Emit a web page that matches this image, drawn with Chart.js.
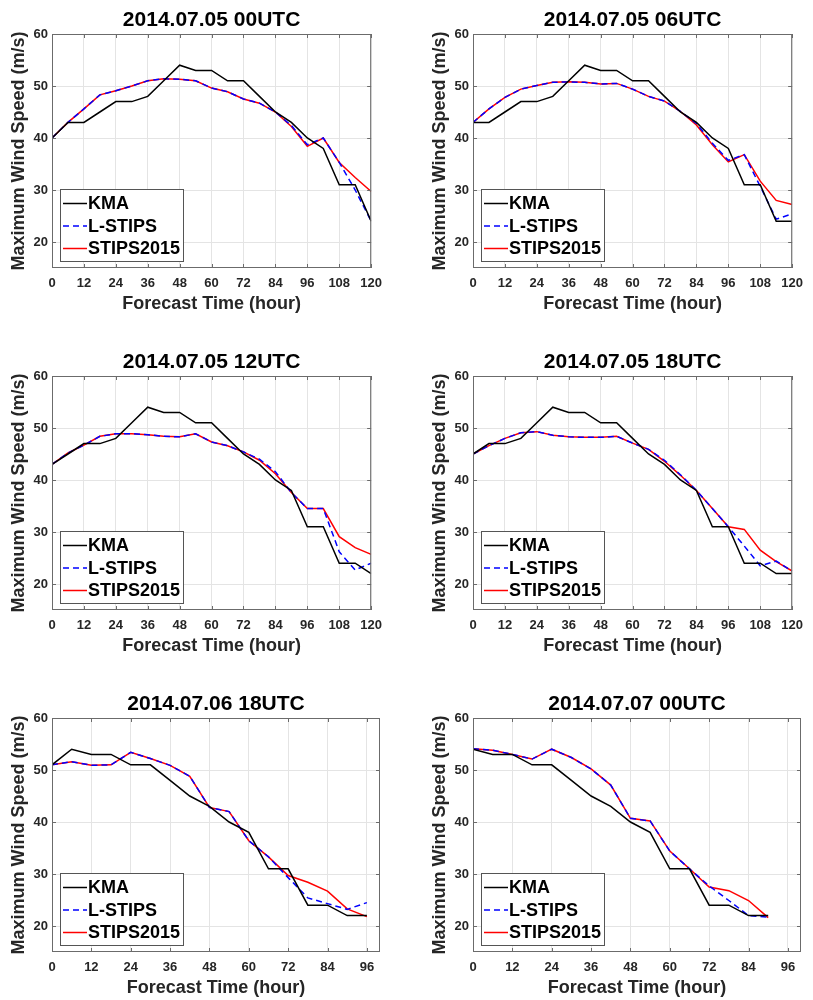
<!DOCTYPE html>
<html>
<head>
<meta charset="utf-8">
<title>Typhoon maximum wind speed forecasts</title>
<script src="https://cdn.jsdelivr.net/npm/chart.js@4.4.0/dist/chart.umd.min.js"></script>
<style>
  body { margin: 0; background: #fff; width: 813px; height: 1000px; position: relative; overflow: hidden; }
  .panel { position: absolute; }
  canvas { display: block; }
</style>
</head>
<body>
<div class="panel" style="left:0;top:0"><canvas id="p0" width="390" height="318"></canvas></div>
<div class="panel" style="left:421px;top:0"><canvas id="p1" width="390" height="318"></canvas></div>
<div class="panel" style="left:0;top:342px"><canvas id="p2" width="390" height="318"></canvas></div>
<div class="panel" style="left:421px;top:342px"><canvas id="p3" width="390" height="318"></canvas></div>
<div class="panel" style="left:0;top:684px"><canvas id="p4" width="390" height="318"></canvas></div>
<div class="panel" style="left:421px;top:684px"><canvas id="p5" width="390" height="318"></canvas></div>

<script>
const FONT = '"Liberation Sans", Arial, Helvetica, sans-serif';

// forecast lead times (hours)
const hours120 = [0, 6, 12, 18, 24, 30, 36, 42, 48, 54, 60, 66, 72, 78, 84, 90, 96, 102, 108, 114, 120];
const hours96 = [0, 6, 12, 18, 24, 30, 36, 42, 48, 54, 60, 66, 72, 78, 84, 90, 96];
const hours90 = [0, 6, 12, 18, 24, 30, 36, 42, 48, 54, 60, 66, 72, 78, 84, 90];

const timeTicks120 = [0, 12, 24, 36, 48, 60, 72, 84, 96, 108, 120];
const timeTicks96 = [0, 12, 24, 36, 48, 60, 72, 84, 96];
const speedTicks = [20, 30, 40, 50, 60];

// 2014.07.05 00UTC
const kma050500 = [40, 43, 43, 45, 47, 47, 48, 51, 54, 53, 53, 51, 51, 48, 45, 43, 40, 38, 31, 31, 24];
const lstips050500 = [40, 43, 45.6, 48.3, 49.1, 50, 51, 51.4, 51.3, 51, 49.6, 48.9, 47.5, 46.7, 45, 42.4, 38.7, 40, 35.3, 30, 24];
const stips050500 = [40, 43, 45.6, 48.3, 49.1, 50, 51, 51.4, 51.3, 51, 49.6, 48.9, 47.5, 46.7, 45, 42.2, 38.4, 40, 35.3, 32.4, 29.7];

// 2014.07.05 06UTC
const kma050506 = [43, 43, 45, 47, 47, 48, 51, 54, 53, 53, 51, 51, 48, 45, 43, 40, 38, 31, 31, 24, 24];
const lstips050506 = [43, 45.6, 47.8, 49.4, 50.1, 50.7, 50.8, 50.7, 50.4, 50.5, 49.4, 48, 47.1, 45.1, 42.8, 39, 35.7, 36.8, 30.7, 24.4, 25.4];
const stips050506 = [43, 45.6, 47.8, 49.4, 50.1, 50.7, 50.8, 50.7, 50.4, 50.5, 49.4, 48, 47.1, 45.1, 42.5, 38.7, 35.4, 36.8, 31.7, 28, 27.2];

// 2014.07.05 12UTC
const kma050512 = [43, 45, 47, 47, 48, 51, 54, 53, 53, 51, 51, 48, 45, 43, 40, 38, 31, 31, 24, 24, 22];
const lstips050512 = [43, 45.2, 46.7, 48.4, 48.9, 48.9, 48.7, 48.4, 48.3, 48.9, 47.3, 46.6, 45.4, 44, 41.6, 37.6, 34.5, 34.5, 26.2, 22.7, 24];
const stips050512 = [43, 45.2, 46.7, 48.4, 48.9, 48.9, 48.7, 48.4, 48.3, 48.9, 47.3, 46.6, 45.4, 43.8, 41.2, 37.6, 34.5, 34.5, 29.1, 27, 25.7];

// 2014.07.05 18UTC
const kma050518 = [45, 47, 47, 48, 51, 54, 53, 53, 51, 51, 48, 45, 43, 40, 38, 31, 31, 24, 24, 22, 22];
const lstips050518 = [45, 46.6, 48, 49.1, 49.3, 48.6, 48.3, 48.2, 48.2, 48.4, 47.1, 45.9, 43.8, 41, 38, 34.5, 31, 27.3, 23.5, 24.4, 22.5];
const stips050518 = [45, 46.6, 48, 49.1, 49.3, 48.6, 48.3, 48.2, 48.2, 48.4, 47.1, 45.9, 43.6, 40.9, 38, 34.5, 31, 30.5, 26.5, 24.3, 22.5];

// 2014.07.06 18UTC
const kma060618 = [51, 54, 53, 53, 51, 51, 48, 45, 43, 40, 38, 31, 31, 24, 24, 22, 22];
const lstips060618 = [51, 51.6, 50.9, 51, 53.4, 52.2, 50.9, 48.8, 42.8, 42, 36.4, 33.3, 29.3, 25.4, 24.3, 23.2, 24.5];
const stips060618 = [51, 51.6, 50.9, 51, 53.4, 52.2, 50.9, 48.8, 42.8, 42, 36.4, 33.3, 29.7, 28.4, 26.7, 23.3, 21.8];

// 2014.07.07 00UTC
const kma070700 = [54, 53, 53, 51, 51, 48, 45, 43, 40, 38, 31, 31, 24, 24, 22, 22];
const lstips070700 = [54.1, 53.8, 53, 52.1, 54, 52.4, 50.2, 47.1, 40.7, 40.2, 34.4, 31, 27.7, 24.9, 22, 21.7];
const stips070700 = [54.1, 53.8, 53, 52.1, 54, 52.4, 50.2, 47.1, 40.7, 40.2, 34.4, 31, 27.5, 26.8, 24.9, 21.6];

const panels = [
    { id: 'p0', title: '2014.07.05 00UTC', hours: hours120, xMax: 120, xTicks: timeTicks120, kma: kma050500, lstips: lstips050500, stips: stips050500 },
    { id: 'p1', title: '2014.07.05 06UTC', hours: hours120, xMax: 120, xTicks: timeTicks120, kma: kma050506, lstips: lstips050506, stips: stips050506 },
    { id: 'p2', title: '2014.07.05 12UTC', hours: hours120, xMax: 120, xTicks: timeTicks120, kma: kma050512, lstips: lstips050512, stips: stips050512 },
    { id: 'p3', title: '2014.07.05 18UTC', hours: hours120, xMax: 120, xTicks: timeTicks120, kma: kma050518, lstips: lstips050518, stips: stips050518 },
    { id: 'p4', title: '2014.07.06 18UTC', hours: hours96, xMax: 100, xTicks: timeTicks96, kma: kma060618, lstips: lstips060618, stips: stips060618 },
    { id: 'p5', title: '2014.07.07 00UTC', hours: hours90, xMax: 100, xTicks: timeTicks96, kma: kma070700, lstips: lstips070700, stips: stips070700 }
];

const AXIS_COLOR = '#262626';

// box outline with inward tick marks on all four sides
const framePlugin = {
    id: 'frame',
    afterDatasetsDraw(chart) {
        const { ctx, chartArea: a, scales: { x, y } } = chart;
        ctx.save();
        ctx.strokeStyle = '#6b6b6b';
        ctx.lineWidth = 1;
        ctx.beginPath();
        x.ticks.forEach(t => {
            const px = Math.round(x.getPixelForValue(t.value)) + 0.5;
            ctx.moveTo(px, a.bottom); ctx.lineTo(px, a.bottom - 4);
            ctx.moveTo(px, a.top); ctx.lineTo(px, a.top + 4);
        });
        y.ticks.forEach(t => {
            const py = Math.round(y.getPixelForValue(t.value)) + 0.5;
            ctx.moveTo(a.left, py); ctx.lineTo(a.left + 4, py);
            ctx.moveTo(a.right, py); ctx.lineTo(a.right - 4, py);
        });
        ctx.stroke();
        ctx.strokeRect(a.left + 0.5, a.top + 0.5, a.right - a.left - 1, a.bottom - a.top - 1);
        ctx.restore();
    }
};

// legend box in the lower-left corner of the plot area
const boxLegend = {
    id: 'boxLegend',
    afterDraw(chart) {
        const { ctx, chartArea: a } = chart;
        const w = 123, h = 72;
        const left = a.left + 8, top = a.bottom - 7 - h;
        ctx.save();
        ctx.fillStyle = '#fff';
        ctx.fillRect(left, top, w, h);
        ctx.strokeStyle = '#555';
        ctx.lineWidth = 1;
        ctx.strokeRect(left + 0.5, top + 0.5, w, h);
        ctx.font = 'bold 18px ' + FONT;
        ctx.textBaseline = 'middle';
        chart.data.datasets.forEach((ds, i) => {
            const ry = top + 14.5 + i * 22.5;
            ctx.strokeStyle = ds.borderColor;
            ctx.lineWidth = ds.borderWidth;
            ctx.setLineDash(ds.borderDash || []);
            ctx.beginPath();
            ctx.moveTo(left + 3, ry);
            ctx.lineTo(left + 27, ry);
            ctx.stroke();
            ctx.setLineDash([]);
            ctx.fillStyle = '#000';
            ctx.fillText(ds.label, left + 28, ry + 1);
        });
        ctx.restore();
    }
};

const toPoints = (hours, vals) => vals.map((v, i) => ({ x: hours[i], y: v }));

panels.forEach(p => {
    const ctx = document.getElementById(p.id).getContext('2d');
    new Chart(ctx, {
        type: 'line',
        data: {
            datasets: [
                { label: 'KMA', data: toPoints(p.hours, p.kma), borderColor: '#000000', borderWidth: 1.5 },
                { label: 'L-STIPS', data: toPoints(p.hours, p.lstips), borderColor: '#0000ff', borderWidth: 1.5, borderDash: [6, 4] },
                { label: 'STIPS2015', data: toPoints(p.hours, p.stips), borderColor: '#ff0000', borderWidth: 1.5 }
            ]
        },
        options: {
            responsive: false,
            animation: false,
            devicePixelRatio: 1,
            layout: { padding: { top: 0, right: 10, bottom: 0, left: 0 } },
            elements: { point: { radius: 0 }, line: { tension: 0, fill: false } },
            plugins: {
                legend: { display: false },
                tooltip: { enabled: false },
                title: {
                    display: true,
                    text: p.title,
                    fullSize: false,
                    color: '#000',
                    font: { family: FONT, size: 21, weight: 'bold', lineHeight: '26px' },
                    padding: { top: 7, bottom: 1 }
                }
            },
            scales: {
                x: {
                    type: 'linear',
                    min: 0,
                    max: p.xMax,
                    afterBuildTicks: s => { s.ticks = p.xTicks.map(v => ({ value: v })); },
                    afterFit: s => { s.height = 50; },
                    grid: { color: '#e4e4e4', drawTicks: false },
                    border: { display: false },
                    ticks: { color: AXIS_COLOR, padding: 8, maxRotation: 0, autoSkip: false, font: { family: FONT, size: 13, weight: 'bold' } },
                    title: {
                        display: true,
                        text: 'Forecast Time (hour)',
                        color: AXIS_COLOR,
                        font: { family: FONT, size: 18, weight: 'bold', lineHeight: 1.2 },
                        padding: { top: 0, bottom: 3 }
                    }
                },
                y: {
                    min: 15,
                    max: 60,
                    afterBuildTicks: s => { s.ticks = speedTicks.map(v => ({ value: v })); },
                    afterFit: s => { s.width = 52; },
                    grid: { color: '#e4e4e4', drawTicks: false },
                    border: { display: false },
                    ticks: { color: AXIS_COLOR, padding: 4, font: { family: FONT, size: 13, weight: 'bold' } },
                    title: {
                        display: true,
                        text: 'Maximum Wind Speed (m/s)',
                        color: AXIS_COLOR,
                        font: { family: FONT, size: 18, weight: 'bold', lineHeight: 1.2 },
                        padding: { top: 8, bottom: 0 }
                    }
                }
            }
        },
        plugins: [framePlugin, boxLegend]
    });
});
</script>
</body>
</html>
